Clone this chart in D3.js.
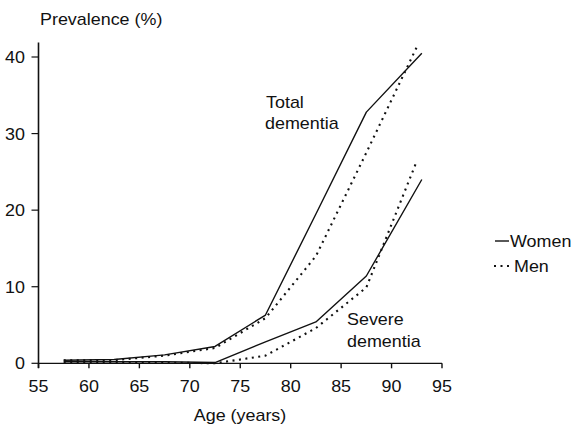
<!DOCTYPE html>
<html>
<head>
<meta charset="utf-8">
<script src="https://cdn.jsdelivr.net/npm/d3@7"></script>
<style>
  html, body { margin: 0; padding: 0; background: #fff; }
  svg { display: block; }
  text { font-family: "Liberation Sans", Arial, Helvetica, sans-serif; fill: #111; }
</style>
</head>
<body>
<svg id="chart" width="581" height="429"></svg>
<script>
// ---- data ----
const womenAges = [57.5, 62.5, 67.5, 72.5, 77.5, 82.5, 87.5, 93];
const menAges   = [57.5, 62.5, 67.5, 72.5, 77.5, 82.5, 87.5, 92.5];
const womenTotal  = [0.4, 0.5, 1.1, 2.2, 6.3, 19.5, 32.8, 40.5];
const menTotal    = [0.4, 0.4, 1.0, 2.0, 5.9, 14.0, 27.5, 41.3];
const womenSevere = [0.2, 0.2, 0.2, 0.1, 2.8, 5.4, 11.4, 24.0];
const menSevere   = [0.1, 0.1, 0.1, 0.0, 1.0, 4.6, 9.9, 26.4];
const xTicks = [55, 60, 65, 70, 75, 80, 85, 90, 95];
const yTicks = [0, 10, 20, 30, 40];
const legendLabels = ["Women", "Men"];
const curveLabels = [["Total", "dementia"], ["Severe", "dementia"]];
const yTitle = "Prevalence (%)";
const xTitle = "Age (years)";

// ---- layout ----
const svg = d3.select("#chart");
const x = d3.scaleLinear().domain([55, 95]).range([38.5, 442]);
const y = d3.scaleLinear().domain([0, 40]).range([363.3, 57]);
const SX = 1.12; // horizontal stretch of the scanned lettering
const FS = 16;

function label(g, px, py, str, anchor) {
  return g.append("text")
    .attr("transform", `translate(${px},${py}) scale(${SX},1)`)
    .attr("text-anchor", anchor || "start")
    .style("font-size", FS + "px")
    .text(str);
}

// axes
const yAxis = svg.append("g");
yAxis.append("line")
  .attr("x1", x(55)).attr("x2", x(55))
  .attr("y1", y(-0.6)).attr("y2", y(41.9))
  .attr("stroke", "#111").attr("stroke-width", 1.6);
yAxis.selectAll("line.tick").data(yTicks).enter().append("line")
  .attr("class", "tick")
  .attr("x1", x(55) - 7).attr("x2", x(55))
  .attr("y1", d => y(d)).attr("y2", d => y(d))
  .attr("stroke", "#111").attr("stroke-width", 1.2);
yTicks.forEach(d => label(yAxis, 25, y(d) + 6, String(d), "end"));

const xAxis = svg.append("g");
xAxis.append("line")
  .attr("x1", x(55)).attr("x2", x(95))
  .attr("y1", y(0)).attr("y2", y(0))
  .attr("stroke", "#111").attr("stroke-width", 1.2);
xAxis.selectAll("line.tick").data(xTicks).enter().append("line")
  .attr("class", "tick")
  .attr("x1", d => x(d)).attr("x2", d => x(d))
  .attr("y1", y(0)).attr("y2", y(0) + 5)
  .attr("stroke", "#111").attr("stroke-width", 1.4);
xTicks.forEach(d => label(xAxis, x(d), 391.5, String(d), "middle"));

label(svg, 240, 421, xTitle, "middle");
label(svg, 40, 25, yTitle, "start");

// lines
const series = [
  { ages: womenAges, vals: womenTotal, dotted: false },
  { ages: womenAges, vals: womenSevere, dotted: false },
  { ages: menAges, vals: menTotal, dotted: true },
  { ages: menAges, vals: menSevere, dotted: true }
];
const line = d3.line().x(d => x(d[0])).y(d => y(d[1]));
series.forEach(s => {
  const pts = s.ages.map((a, i) => [a, s.vals[i]]);
  svg.append("path")
    .attr("d", line(pts))
    .attr("fill", "none")
    .attr("stroke", "#111")
    .attr("stroke-width", s.dotted ? 2.1 : 1.4)
    .attr("stroke-dasharray", s.dotted ? "2 4.5" : null)
    .attr("stroke-linejoin", "round");
});

// curve labels
label(svg, 266, 108, curveLabels[0][0]);
label(svg, 265, 129, curveLabels[0][1]);
label(svg, 347, 325, curveLabels[1][0]);
label(svg, 347, 347, curveLabels[1][1]);

// legend
const leg = svg.append("g");
leg.append("line").attr("x1", 495).attr("x2", 509).attr("y1", 241).attr("y2", 241)
  .attr("stroke", "#111").attr("stroke-width", 1.4);
label(leg, 510, 247, legendLabels[0]);
leg.append("line").attr("x1", 494).attr("x2", 512).attr("y1", 266).attr("y2", 266)
  .attr("stroke", "#111").attr("stroke-width", 2.1).attr("stroke-dasharray", "2 4.5");
label(leg, 514, 272, legendLabels[1]);
</script>
</body>
</html>
